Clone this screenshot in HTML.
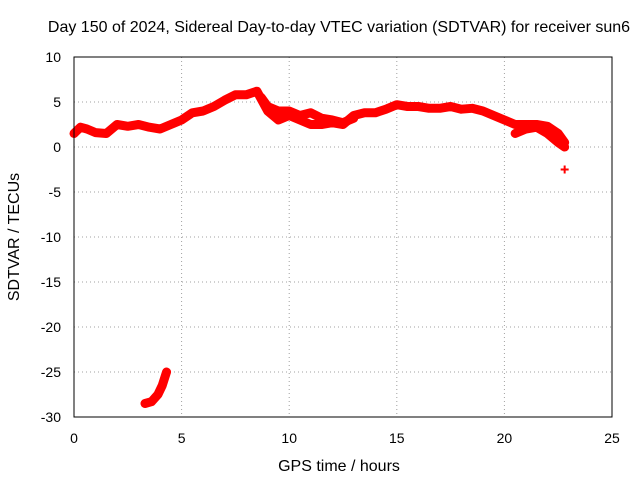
<!DOCTYPE html>
<html><head><meta charset="utf-8"><style>
body{margin:0;background:#fff}
text{font-family:"Liberation Sans",sans-serif;font-size:14px;fill:#000}
.big{font-size:16px}
</style></head><body>
<svg id="chart" width="640" height="480" xmlns="http://www.w3.org/2000/svg">
<text class="big" x="339" y="32" text-anchor="middle">Day 150 of 2024, Sidereal Day-to-day VTEC variation (SDTVAR) for receiver sun6</text>
<text class="big" x="339" y="471" text-anchor="middle">GPS time / hours</text>
<text class="big" transform="translate(19,237) rotate(-90)" text-anchor="middle">SDTVAR / TECUs</text>
<g id="grid"></g><g id="ticks"></g><g id="series"></g>
<rect x="74" y="57" width="538" height="360" fill="none" stroke="#000" stroke-width="1"/>
</svg>
<script>
const xTicks=[0,5,10,15,20,25];
const yTicks=[10,5,0,-5,-10,-15,-20,-25,-30];
const trackAHours=[0,0.3,0.6,1,1.5,2,2.5,3,3.5,4,4.5,5,5.5,6,6.5,7,7.5,8,8.5,9,9.5,10,10.5,11,11.5,12,12.5,13,13.5,14,14.5,15,15.5,16,16.5,17,17.5,18,18.5,19,19.5,20,20.5,21,21.5,22,22.5,22.8];
const trackAValues=[1.5,2.2,2,1.6,1.5,2.5,2.3,2.5,2.2,2,2.5,3,3.8,4,4.5,5.2,5.8,5.8,6.2,4,3,3.5,3,2.5,2.5,2.7,2.5,3.5,3.8,3.8,4.2,4.7,4.5,4.5,4.3,4.3,4.5,4.2,4.3,4,3.5,3,2.5,2.5,2.5,2.3,1.5,0.5];
const trackBHours=[8.7,9,9.5,10,10.5,11,11.5,12,12.5,13];
const trackBValues=[5.5,4.5,4,4,3.5,3.8,3.2,3,2.7,3.2];
const trackCHours=[20.5,21,21.5,22,22.5,22.8];
const trackCValues=[1.5,2,2.2,1.5,0.5,0];
const trackDHours=[3.3,3.6,3.9,4.1,4.3];
const trackDValues=[-28.5,-28.3,-27.5,-26.5,-25];
const isolatedHours=[22.8];
const isolatedValues=[-2.5];
const X=v=>74+v*538/25, Y=v=>57+(10-v)*9;
const NS="http://www.w3.org/2000/svg";
const mk=(p,t,a)=>{const e=document.createElementNS(NS,t);for(const k in a)e.setAttribute(k,a[k]);p.appendChild(e);return e;};
const grid=document.getElementById('grid'),ticks=document.getElementById('ticks'),ser=document.getElementById('series');
xTicks.forEach(t=>{
 if(t>0&&t<25){const g=mk(grid,'line',{x1:X(t),x2:X(t),y1:57,y2:417,stroke:'#a0a0a0','stroke-dasharray':'1,3'});
 
 }
 const l=mk(ticks,'text',{x:X(t),y:443,'text-anchor':'middle'});l.textContent=t;
 
 
});
yTicks.forEach(t=>{
 if(t<10&&t>-30){const g=mk(grid,'line',{x1:74,x2:612,y1:Y(t),y2:Y(t),stroke:'#a0a0a0','stroke-dasharray':'1,3'});
 
 }
 const l=mk(ticks,'text',{x:61,y:Y(t)+5,'text-anchor':'end'});l.textContent=t;
 
 
});
function track(h,v,name){
 const pts=h.map((x,i)=>X(x)+','+Y(v[i])).join(' ');
 const p=mk(ser,'polyline',{points:pts,fill:'none',stroke:'#ff0000','stroke-width':9,'stroke-linejoin':'round','stroke-linecap':'round'});
 
 
}
track(trackAHours,trackAValues,'series-track-a');
track(trackBHours,trackBValues,'series-track-b');
track(trackCHours,trackCValues,'series-track-c');
track(trackDHours,trackDValues,'series-track-d');
isolatedHours.forEach((h,i)=>{
 const p=mk(ser,'path',{d:`M${X(h)-4},${Y(isolatedValues[i])}h8M${X(h)},${Y(isolatedValues[i])-4}v8`,stroke:'#ff0000','stroke-width':2});
 
 
});
</script>
</body></html>
